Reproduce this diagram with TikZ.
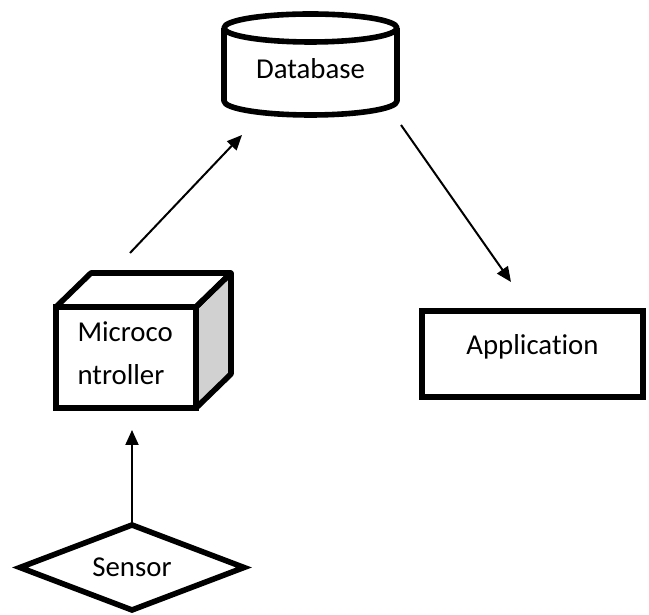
\documentclass[tikz,border=0pt]{standalone}
\usepackage{fontspec}
\setmainfont{Carlito}[Ligatures=NoCommon]
\usepackage{tikz}
\usetikzlibrary{arrows.meta, shapes.geometric}

\tikzset{
  box/.style={draw, line width=2.8pt, outer sep=0pt, inner sep=0pt,
    font=\fontsize{14.4}{21.5}\selectfont},
  edge/.style={line width=2.8pt, line join=round},
  arrow/.style={-{Triangle[length=7.5pt,width=6.5pt]}, line width=1pt}
}

\begin{document}
\begin{tikzpicture}[x=0.5pt, y=0.5pt]
\useasboundingbox (0,0) rectangle (649,615);

% Database (cylinder)
\draw[edge] (224,587) -- (224,514)
  arc[start angle=180, end angle=360, x radius=86.5, y radius=14] -- (397,587);
\draw[edge] (310.5,587) ellipse[x radius=86.5, y radius=14];
\node[box, draw=none] (db) at (310.5,546) {Database};

% Microcontroller (cube)
\draw[edge, fill=black!18] (196,308) -- ++(35,34) -- ++(0,-101) -- (196,207) -- cycle;
\draw[edge] (56,308) -- ++(35,34) -- ++(140,0) -- (196,308);
\node[box, fill=white, minimum width=70pt, minimum height=50.5pt] (mc) at (126,257.5) {};
\node[font=\fontsize{14.4}{21.5}\selectfont, text width=48.5pt, align=left,
  inner sep=0pt] (mc-text) at (126,262) {Microco\\ntroller};

% Application
\node[box, minimum width=110.5pt, minimum height=43pt, text depth=9pt] (app)
  at (532.5,261) {Application};

% Sensor
\node[box, diamond, aspect=2.6, minimum width=112pt, minimum height=42.5pt] (sn)
  at (132,47.5) {Sensor};

% Arrows
\coordinate (mc-out) at (130,362);
\coordinate (db-in) at (242,480);
\coordinate (db-out) at (401,490);
\coordinate (app-in) at (511,333);
\draw[arrow] (sn.north) -- ([yshift=-11pt]sn.north |- mc.south);
\draw[arrow] (mc-out) -- (db-in);
\draw[arrow] (db-out) -- (app-in);
\end{tikzpicture}
\end{document}
